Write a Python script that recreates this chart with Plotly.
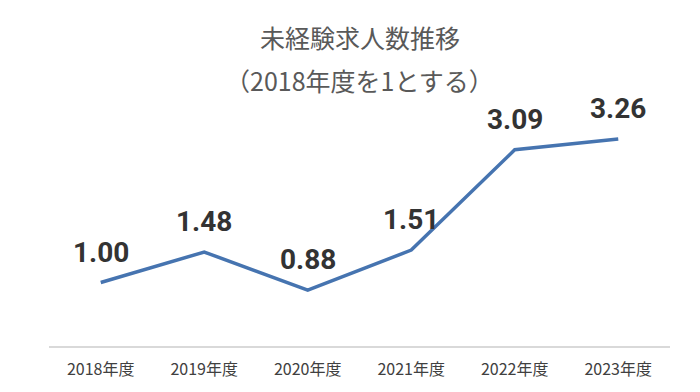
import plotly.graph_objects as go

categories = ["2018年度", "2019年度", "2020年度", "2021年度", "2022年度", "2023年度"]
values = [1.00, 1.48, 0.88, 1.51, 3.09, 3.26]
labels = ["1.00", "1.48", "0.88", "1.51", "3.09", "3.26"]
title_lines = ["未経験求人数推移", "（2018年度を1とする）"]

# the page body adds an 8px offset, so the figure is laid out 8px up/left
W, H = 700, 392
M_L, M_R, M_T, M_B = 41, 38, 84, 54

fig = go.Figure()
fig.add_trace(go.Scatter(
    x=categories, y=values, mode="lines",
    line=dict(color="#4674b0", width=3.5),
    hoverinfo="skip", showlegend=False,
))

for c, v, t in zip(categories, values, labels):
    fig.add_annotation(
        x=c, y=v, text=t, showarrow=False, xanchor="center", yanchor="bottom",
        yshift=12,
        font=dict(family="Roboto", size=28, color="#333333", weight="bold"),
    )

plot_h = H - M_T - M_B
for txt, ypix in zip(title_lines, [29, 72]):
    fig.add_annotation(
        x=0.5, y=(H - M_B - ypix) / plot_h, xref="paper", yref="paper",
        text=txt, showarrow=False, xanchor="center", yanchor="middle",
        font=dict(family="Noto Sans CJK JP", size=25, color="#595959"),
    )

fig.update_layout(
    width=W, height=H,
    margin=dict(l=M_L, r=M_R, t=M_T, b=M_B),
    paper_bgcolor="white", plot_bgcolor="white",
    xaxis=dict(
        type="category", range=[-0.5, 5.5], showgrid=False, zeroline=False,
        showline=True, linecolor="#d9d9d9", linewidth=1.5,
        ticks="", ticklabelstandoff=8,
        tickfont=dict(family="Noto Sans CJK JP", size=16, color="#404040"),
        fixedrange=True,
    ),
    yaxis=dict(range=[0, 4], visible=False, fixedrange=True),
)

fig.write_html("out.html")
